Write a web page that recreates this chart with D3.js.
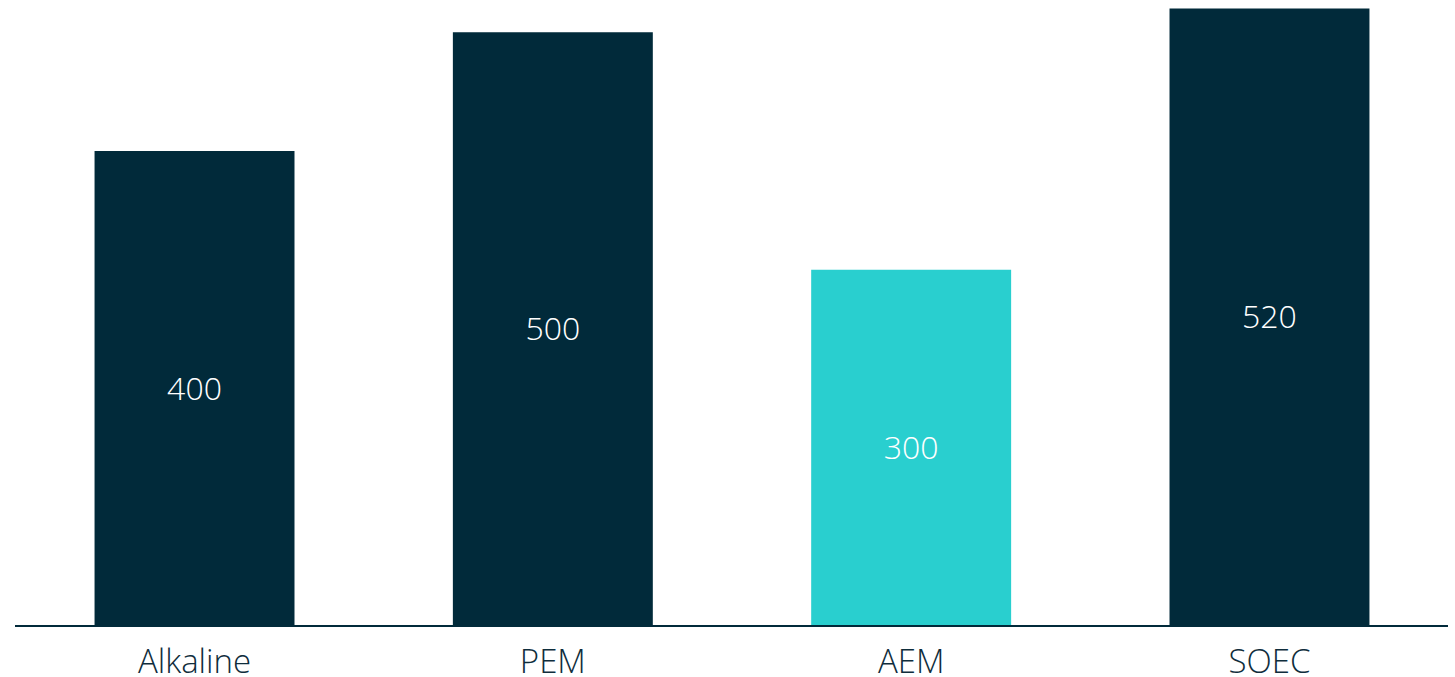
<!DOCTYPE html>
<html>
<head>
<meta charset="utf-8">
<script src="https://cdn.jsdelivr.net/npm/d3@7"></script>
<style>
  body { margin: 0; background: #fff; }
  svg { display: block; font-family: "Open Sans", sans-serif; }
</style>
</head>
<body>
<svg width="1455" height="677"></svg>
<script>
const categories = ["Alkaline", "PEM", "AEM", "SOEC"]
const values = [400, 500, 300, 520]
const barColors = ["#012a3a", "#012a3a", "#29cfcf", "#012a3a"]

const svg = d3.select("svg")
const margin = { top: 8, right: 8, bottom: 51, left: 15 }
const width = +svg.attr("width")
const height = +svg.attr("height")

const x = d3.scaleBand()
  .domain(categories)
  .range([margin.left, width - margin.right + 2])
  .paddingInner(0.442)
  .paddingOuter(0.222)

// 520 reaches the top at y=8
const y = d3.scaleLinear()
  .domain([0, 520])
  .range([height - margin.bottom, margin.top + 0.5])

svg.selectAll(".bar")
  .data(values)
  .enter().append("rect")
  .attr("class", "bar")
  .attr("x", (d, i) => x(categories[i]))
  .attr("y", d => y(d))
  .attr("width", x.bandwidth())
  .attr("height", d => y(0) - y(d))
  .attr("fill", (d, i) => barColors[i])

// value labels in the middle of the bars
svg.selectAll(".val")
  .data(values)
  .enter().append("text")
  .attr("class", "val")
  .attr("x", (d, i) => x(categories[i]) + x.bandwidth() / 2)
  .attr("y", d => (y(d) + y(0)) / 2)
  .attr("dy", "0.35em")
  .attr("text-anchor", "middle")
  .attr("fill", "#fff")
  .style("font-size", "32px")
  .style("font-weight", 300)
  .text(d => d)

// baseline
svg.append("line")
  .attr("x1", margin.left)
  .attr("x2", width - 7)
  .attr("y1", y(0))
  .attr("y2", y(0))
  .attr("stroke", "#012a3a")
  .attr("stroke-width", 2)

const xAxis = svg.append("g")
  .attr("transform", `translate(0,${y(0)})`)
  .call(d3.axisBottom(x).tickSize(0).tickPadding(0))

xAxis.select(".domain").remove()
xAxis.selectAll("text")
  .attr("dy", null)
  .attr("y", 47)
  .attr("fill", "#0f2d3c")
  .style("font-family", "Open Sans, sans-serif")
  .style("font-size", "33px")
  .style("font-weight", 300)
</script>
</body>
</html>
